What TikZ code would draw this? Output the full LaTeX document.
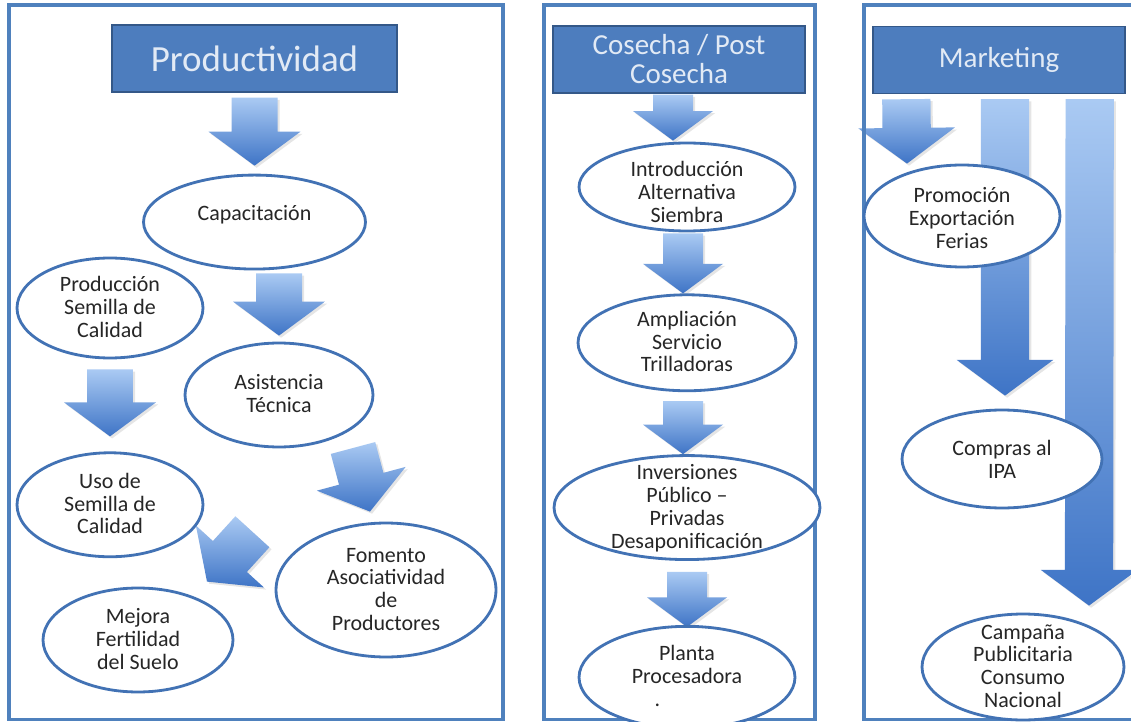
\documentclass[tikz,border=0pt]{standalone}
\usepackage{fontspec}
\setmainfont{Carlito}
\usetikzlibrary{shapes, calc, positioning, shadows}

\pgfdeclarelayer{background}
\pgfsetlayers{background,main}

\definecolor{panelblue}{RGB}{79,129,189}
\definecolor{titleblue}{RGB}{77,125,190}
\definecolor{titleedge}{RGB}{52,88,136}
\definecolor{titletext}{RGB}{226,234,245}
\definecolor{bubbleedge}{RGB}{66,114,180}
\definecolor{bubbletext}{RGB}{38,38,38}
\definecolor{arrowtop}{RGB}{170,202,243}
\definecolor{arrowbottom}{RGB}{62,116,198}

% text inside a bubble, fixed ellipse size
\newcommand{\btext}[2][-4pt]{\smash{\raisebox{#1}{\begin{tabular}{@{}c@{}}#2\end{tabular}}}}

% shaded block arrow from tail to tip
\newcommand{\blockarrow}[3][1]{%
  \coordinate (ba-a) at #2;
  \coordinate (ba-b) at #3;
  \coordinate (ba-h) at ($(ba-b)!#1*0.68cm!(ba-a)$);
  \begin{pgfonlayer}{background}
  \path[block arrow]
    ($(ba-a)!#1*0.46cm!90:(ba-b)$) -- ($(ba-h)!#1*0.46cm!90:(ba-b)$) --
    ($(ba-h)!#1*0.92cm!90:(ba-b)$) -- (ba-b) --
    ($(ba-h)!#1*0.92cm!-90:(ba-b)$) -- ($(ba-h)!#1*0.46cm!-90:(ba-b)$) --
    ($(ba-a)!#1*0.46cm!-90:(ba-b)$) -- cycle;
  \end{pgfonlayer}}

\begin{document}
\begin{tikzpicture}[
    x=0.02cm, y=-0.02cm,
    panel/.style={draw=panelblue, line width=2.2pt},
    title box/.style={rectangle, draw=titleedge, line width=0.8pt, fill=titleblue, text=titletext, minimum height=1.34cm, inner sep=0pt, align=center, font=\fontsize{16.5}{16.5}\selectfont},
    bubble/.style={ellipse, draw=bubbleedge, line width=1.6pt, fill=white, inner sep=0pt, text=bubbletext, font=\fontsize{12.5}{13}\selectfont},
    block arrow/.style={top color=arrowtop, bottom color=arrowbottom, drop shadow={opacity=0.2, shadow xshift=1.2pt, shadow yshift=-1.2pt}}
]
    \useasboundingbox (0,0) rectangle (1131,722);
    \begin{pgfonlayer}{background}
        \fill[white] (0,0) rectangle (1131,722);
    \end{pgfonlayer}

    % Panels
    \draw[panel] (9,5) rectangle (503,719.5);
    \draw[panel] (544,5) rectangle (815,719.5);
    \draw[panel] (864,5) rectangle (1140,719.5);

    % Titles
    \node (prod) [title box, minimum width=5.7cm, font=\fontsize{21}{22}\selectfont] at (254.5,58.5) {Productividad};
    \node (cosecha) [title box, minimum width=5.04cm] at (679,59.5) {Cosecha / Post\\Cosecha};
    \node (mkt) [title box, minimum width=5.04cm] at (999,60) {Marketing};

    % Productividad nodes
    \node (cap) [bubble, minimum width=4.44cm, minimum height=1.88cm, below=1.62cm of prod] {\btext[0.5pt]{Capacitación}};
    \node (prodsem) [bubble, minimum width=3.72cm, minimum height=2cm] at (110,308) {\btext{Producción\\Semilla de\\Calidad}};
    \node (asis) [bubble, minimum width=3.76cm, minimum height=2.08cm] at (279,395) {\btext{Asistencia\\Técnica}};
    \node (uso) [bubble, minimum width=3.72cm, minimum height=2.08cm, below=1.84cm of prodsem] {\btext{Uso de\\Semilla de\\Calidad}};
    \node (fomento) [bubble, minimum width=4.4cm, minimum height=2.68cm] at (386,590) {\btext{Fomento\\Asociatividad\\de\\Productores}};
    \node (mejora) [bubble, minimum width=3.8cm, minimum height=2.08cm] at (138,640) {\btext{Mejora\\Fertilidad\\del Suelo}};

    % Cosecha nodes
    \node (intro) [bubble, minimum width=4.32cm, minimum height=1.76cm] at (687,187) {\btext[-7.4pt]{Introducción\\Alternativa\\Siembra}};
    \node (ampl) [bubble, minimum width=4.36cm, minimum height=1.92cm, below=1.22cm of intro] {\btext{Ampliación\\Servicio\\Trilladoras}};
    \node (inv) [bubble, minimum width=5.32cm, minimum height=2.08cm, below=1.24cm of ampl] {\btext{Inversiones\\Público –\\Privadas\\Desaponificación}};
    \node (planta) [bubble, minimum width=4.32cm, minimum height=2.04cm, below=1.28cm of inv] {\btext{Planta\\Procesadora\\\makebox[1.3cm][l]{.}}};

    % Marketing nodes
    \node (promo) [bubble, minimum width=3.92cm, minimum height=2.04cm] at (962,216) {\btext[-6pt]{Promoción\\Exportación\\Ferias}};
    \node (compras) [bubble, minimum width=4cm, minimum height=1.96cm] at (1002,459) {\btext[-5pt]{Compras al\\IPA}};
    \node (campana) [bubble, minimum width=4.04cm, minimum height=2.12cm] at (1023,667) {\btext{Campaña\\Publicitaria\\Consumo\\Nacional}};

    % Arrows
    \blockarrow{($(prod.south)+(0,5)$)}{($(cap.north)+(0,-8)$)}
    \blockarrow{($(cap.south -| asis.north)+(0,3)$)}{($(asis.north)+(0,-6)$)}
    \blockarrow{($(prodsem.south)+(0,10)$)}{($(uso.north)+(0,-15)$)}
    \blockarrow{($(asis.center)+(74,53)$)}{($(fomento.north)+(-16,-10)$)}
    \blockarrow{($(uso.east)+(48,27)$)}{($(mejora.north)+(69,-5)$)}

    \blockarrow[0.87]{($(cosecha.south)+(-6,1)$)}{($(intro.north)+(-14,-1)$)}
    \blockarrow[0.87]{($(intro.south)+(-4,1)$)}{($(ampl.north)+(-4,0)$)}
    \blockarrow[0.87]{($(ampl.south)+(-4,9)$)}{($(inv.north)+(-4,0)$)}
    \blockarrow[0.87]{($(inv.south)+(0,11)$)}{($(planta.north)+(0,2)$)}

    \blockarrow[1.05]{($(mkt.south west)+(34,5)$)}{($(promo.north)+(-55,0)$)}
    \blockarrow[1.05]{($(mkt.south)+(6,5)$)}{($(compras.north)+(3,-13)$)}
    \blockarrow[1.05]{($(mkt.south east)+(-36,5)$)}{($(campana.north)+(66,-7)$)}
\end{tikzpicture}
\end{document}
